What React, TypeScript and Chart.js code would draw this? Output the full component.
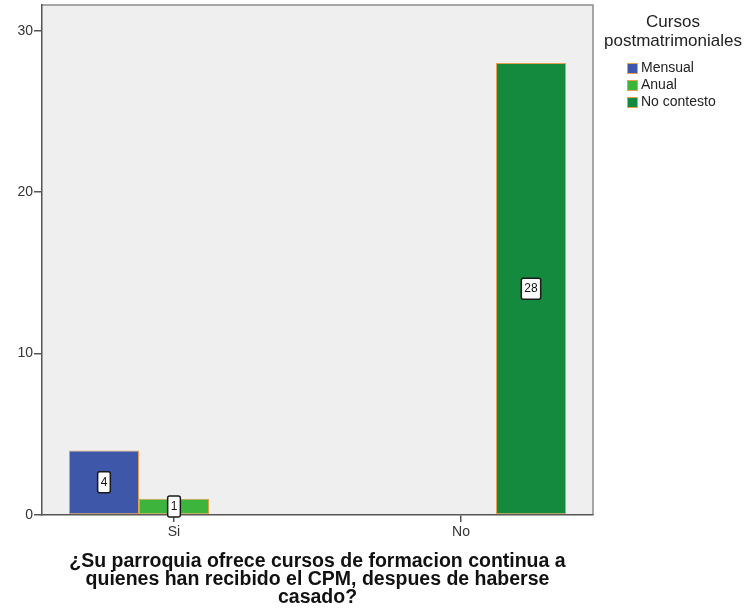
import React, { useEffect, useRef } from 'react';
import { Chart, registerables, CategoryScale } from 'chart.js';

Chart.register(...registerables);

// ---- data ----
const categories = ['Si', 'No'];
const seriesNames = ['Mensual', 'Anual', 'No contesto'];
const mensual: (number | null)[] = [4, null];
const anual: (number | null)[] = [1, null];
const noContesto: (number | null)[] = [null, 28];
const yTicks = [0, 10, 20, 30];
const yMax = 31.6;
const xTitle = [
  '¿Su parroquia ofrece cursos de formacion continua a',
  'quienes han recibido el CPM, despues de haberse',
  'casado?',
];
const legendTitle = ['Cursos', 'postmatrimoniales'];
const seriesColors = ['#3e57a9', '#3db53d', '#148a3f'];
const barBorder = '#e2a24e';
const FAMILY = '"Liberation Sans", Arial, sans-serif';

// category scale with SPSS-like edge spacing
class SpssCategoryScale extends CategoryScale {
  static id = 'spssCategory';
  static defaults = (CategoryScale as any).defaults;
  configure() {
    super.configure();
    const self = this as any;
    const edge = 0.46;
    self._startValue = self.min - edge;
    self._valueRange = Math.max(self.max - self.min, 0) + 2 * edge;
  }
}
Chart.register(SpssCategoryScale as any);

const framePlugin = {
  id: 'frame',
  beforeDraw(chart: any) {
    const { ctx, chartArea: a } = chart;
    ctx.save();
    ctx.fillStyle = '#efefef';
    ctx.fillRect(a.left, a.top, a.right - a.left, a.bottom - a.top);
    ctx.strokeStyle = '#8c8c8c';
    ctx.lineWidth = 1.5;
    ctx.beginPath();
    ctx.moveTo(a.left, a.top);
    ctx.lineTo(a.right, a.top);
    ctx.lineTo(a.right, a.bottom);
    ctx.stroke();
    ctx.restore();
  },
};

const valueLabelPlugin = {
  id: 'valueLabels',
  afterDatasetsDraw(chart: any) {
    const { ctx } = chart;
    ctx.save();
    ctx.font = `12px ${FAMILY}`;
    ctx.textAlign = 'center';
    ctx.textBaseline = 'middle';
    chart.data.datasets.forEach((ds: any, di: number) => {
      const meta = chart.getDatasetMeta(di);
      meta.data.forEach((el: any, i: number) => {
        const v = ds.data[i];
        if (v === null || v === undefined) return;
        const { x, y, base } = el.getProps(['x', 'y', 'base'], true);
        const cy = (y + base) / 2;
        const text = String(v);
        const tw = ctx.measureText(text).width;
        const w = tw + 6;
        const h = 21;
        ctx.beginPath();
        if (ctx.roundRect) ctx.roundRect(x - w / 2, cy - h / 2, w, h, 2);
        else ctx.rect(x - w / 2, cy - h / 2, w, h);
        ctx.fillStyle = '#ffffff';
        ctx.fill();
        ctx.lineWidth = 1.5;
        ctx.strokeStyle = '#1a1a1a';
        ctx.stroke();
        ctx.fillStyle = '#111111';
        ctx.fillText(text, x, cy + 0.5);
      });
    });
    ctx.restore();
  },
};

const legendPlugin = {
  id: 'sideLegend',
  afterDraw(chart: any) {
    const { ctx, chartArea: a } = chart;
    ctx.save();
    ctx.fillStyle = '#222222';
    ctx.textAlign = 'center';
    ctx.textBaseline = 'middle';
    ctx.font = `17px ${FAMILY}`;
    const cx = a.right + 80;
    legendTitle.forEach((t, i) => ctx.fillText(t, cx, a.top + 17 + i * 19));
    ctx.textAlign = 'left';
    ctx.font = `14px ${FAMILY}`;
    const lx = a.right + 34;
    chart.data.datasets.forEach((ds: any, i: number) => {
      const cy = a.top + 63 + i * 17;
      ctx.fillStyle = ds.backgroundColor;
      ctx.fillRect(lx, cy - 5, 11, 11);
      ctx.strokeStyle = ds.borderColor;
      ctx.lineWidth = 1;
      ctx.strokeRect(lx + 0.5, cy - 4.5, 10, 10);
      ctx.fillStyle = '#222222';
      ctx.fillText(ds.label, lx + 14, cy + 0.5);
    });
    ctx.restore();
  },
};

export default function App() {
  const ref = useRef<HTMLCanvasElement | null>(null);
  useEffect(() => {
    if (!ref.current) return;
    const seriesData = [mensual, anual, noContesto];
    const chart = new Chart(ref.current, {
      type: 'bar',
      data: {
        labels: categories,
        datasets: seriesNames.map((name, i) => ({
          label: name,
          data: seriesData[i],
          backgroundColor: seriesColors[i],
          borderColor: barBorder,
          borderWidth: 1,
          borderSkipped: false,
          categoryPercentage: 0.732,
          barPercentage: 1,
        })),
      },
      options: {
        animation: false,
        responsive: false,
        layout: { padding: { top: 5, right: 153, left: 0, bottom: 0 } },
        plugins: {
          legend: { display: false },
          tooltip: { enabled: false },
          title: { display: false },
        },
        scales: {
          x: {
            type: 'spssCategory' as any,
            offset: true,
            grid: {
              display: true,
              drawOnChartArea: false,
              drawTicks: true,
              tickLength: 7,
              offset: false,
              color: '#555555',
              lineWidth: 1.5,
            },
            border: { display: true, color: '#555555', width: 1.5 },
            ticks: {
              color: '#333333',
              font: { size: 14, family: FAMILY },
              padding: 2,
              maxRotation: 0,
              autoSkip: false,
            },
            title: {
              display: true,
              text: xTitle,
              color: '#111111',
              font: { size: 19.5, weight: 'bold', family: FAMILY, lineHeight: '18px' },
              padding: { top: 0, bottom: 8 },
            },
            afterFit(s: any) {
              s.height = 100;
              s.paddingLeft = 0;
              s.paddingRight = 0;
            },
          } as any,
          y: {
            min: 0,
            max: yMax,
            ticks: {
              stepSize: 10,
              includeBounds: false,
              color: '#333333',
              font: { size: 14, family: FAMILY },
              padding: 1,
            },
            afterBuildTicks(s: any) {
              s.ticks = yTicks.map((v) => ({ value: v }));
            },
            grid: {
              display: true,
              drawOnChartArea: false,
              drawTicks: true,
              tickLength: 8,
              color: '#555555',
              lineWidth: 1.5,
            },
            border: { display: true, color: '#555555', width: 1.5 },
            afterFit(s: any) {
              s.width = 42;
              s.paddingTop = 0;
              s.paddingBottom = 0;
            },
          } as any,
        },
      },
      plugins: [framePlugin, valueLabelPlugin, legendPlugin],
    });
    return () => chart.destroy();
  }, []);
  return (
    <div style={{ position: 'absolute', left: 0, top: 0, width: 746, height: 615, background: '#ffffff' }}>
      <canvas ref={ref} width={746} height={615} style={{ display: 'block' }} />
    </div>
  );
}
